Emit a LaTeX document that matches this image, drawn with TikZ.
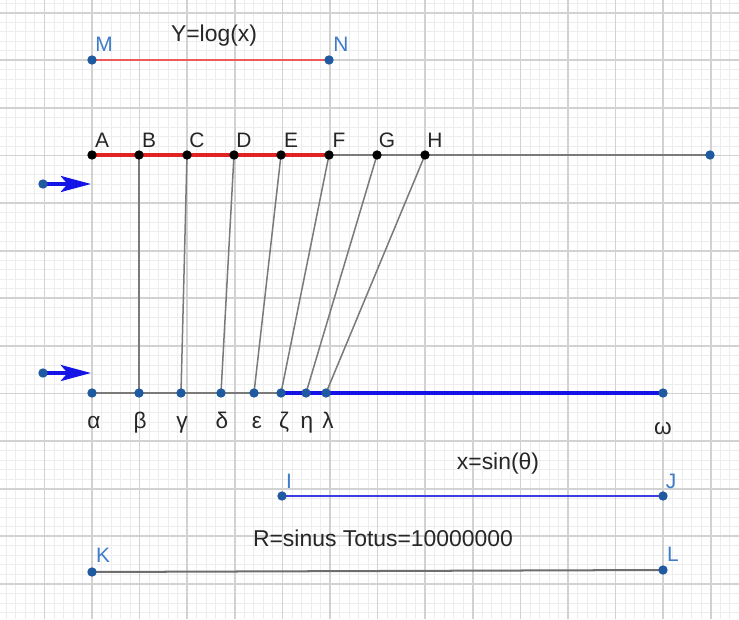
\documentclass[tikz,border=0pt]{standalone}
\usepackage{fontspec}
\setmainfont{Liberation Sans}
\usetikzlibrary{arrows.meta,calc}
\definecolor{gridminor}{HTML}{EDEDED}
\definecolor{gridmajor}{HTML}{D2D2D2}
\definecolor{segred}{HTML}{E02424}
\definecolor{lightred}{HTML}{EE5A5A}
\definecolor{segblue}{HTML}{1414E6}
\definecolor{ijblue}{HTML}{3C3CE0}
\definecolor{ptblue}{HTML}{1F5AA0}
\definecolor{lblblue}{HTML}{3D7CC9}
\definecolor{segray}{HTML}{7A7A7A}
\tikzset{
  bdot/.style={circle,fill=black,inner sep=0pt,minimum size=5.6pt},
  udot/.style={circle,fill=ptblue,inner sep=0pt,minimum size=5.6pt},
  plabel/.style={font=\fontsize{12.5}{14}\selectfont,text=black!85,inner sep=0pt},
  glabel/.style={font=\fontsize{13.5}{15}\selectfont,text=black!85,inner sep=0pt,anchor=base},
  ulabel/.style={font=\fontsize{12.5}{14}\selectfont,text=lblblue,inner sep=0pt},
  title/.style={font=\fontsize{13.7}{16}\selectfont,text=black!85,inner sep=0pt},
  thinseg/.style={draw=segray,line width=0.9pt},
  thickred/.style={draw=segred,line width=2.4pt},
  thickblue/.style={draw=segblue,line width=2.4pt},
  pointer/.style={draw=segblue,line width=2.4pt,-{Stealth[length=18pt,width=9.5pt,inset=4pt]}}
}
\begin{document}
\begin{tikzpicture}[x=0.02101cm,y=-0.02101cm]
\useasboundingbox (0,0) rectangle (739,619);
\fill[white] (0,0) rectangle (739,619);
\begin{scope}
\clip (0,0) rectangle (739,619);
\foreach \i in {0,...,79} {
  \draw[gridminor,line width=0.5pt] ({-3.2+9.52*\i},0) -- ({-3.2+9.52*\i},619);
}
\foreach \i in {0,...,70} {
  \draw[gridminor,line width=0.5pt] (0,{-34.9+9.52*\i}) -- (739,{-34.9+9.52*\i});
}
\foreach \i in {0,...,16} {
  \draw[gridmajor,line width=1pt] ({-3.2+47.6*\i},0) -- ({-3.2+47.6*\i},619);
}
\foreach \i in {0,...,14} {
  \draw[gridmajor,line width=1pt] (0,{-34.9+47.6*\i}) -- (739,{-34.9+47.6*\i});
}
\end{scope}

% positions
\coordinate (M) at (92,60);
\coordinate (N) at (329,60);
\coordinate (A) at (92,155);
\coordinate (B) at (139,155);
\coordinate (C) at (187,155);
\coordinate (D) at (234,155);
\coordinate (E) at (281,155);
\coordinate (F) at (329,155);
\coordinate (G) at (377,155);
\coordinate (H) at (425,155);
\coordinate (Z) at (710,155);
\coordinate (al) at (92,393);
\coordinate (be) at (139,393);
\coordinate (ga) at (181,393);
\coordinate (de) at (221,393);
\coordinate (ep) at (254,393);
\coordinate (ze) at (281,393);
\coordinate (et) at (306,393);
\coordinate (la) at (326,393);
\coordinate (om) at (663,393);
\coordinate (I) at (282,496);
\coordinate (J) at (663,496);
\coordinate (K) at (92,572);
\coordinate (L) at (663,570);
\coordinate (p1) at (43,184);
\coordinate (p1t) at (91,184);
\coordinate (p2) at (43,373);
\coordinate (p2t) at (91,373);

% segments
\draw[draw=lightred,line width=1.5pt] (M) -- (N);
\draw[thinseg] (A) -- (Z);
\draw[thickred] (A) -- (F);
\draw[thinseg] (B) -- (be);
\draw[thinseg] (C) -- (ga);
\draw[thinseg] (D) -- (de);
\draw[thinseg] (E) -- (ep);
\draw[thinseg] (F) -- (ze);
\draw[thinseg] (G) -- (et);
\draw[thinseg] (H) -- (la);
\draw[thinseg] (al) -- (om);
\draw[thickblue] (ze) -- (om);
\draw[draw=ijblue,line width=1.2pt] (I) -- (J);
\draw[draw=segray!90!black,line width=1.2pt] (K) -- (L);
\draw[pointer] (p1) -- (p1t);
\draw[pointer] (p2) -- (p2t);

% dots
\foreach \p in {A,B,C,D,E,F,G,H} { \node[bdot] (dot-\p) at (\p) {}; }
\foreach \p in {M,N,Z,al,be,ga,de,ep,ze,et,la,om,I,J,K,L,p1,p2} { \node[udot] (dot-\p) at (\p) {}; }

% labels
\node[ulabel] (lM) at (104,44) {M};
\node[ulabel] (lN) at (341,44) {N};
\foreach \p/\t in {A/A,B/B,C/C,D/D,E/E,F/F,G/G,H/H} {
  \node[plabel] (l\p) at ($(\p)+(10,-15)$) {\t};
}
\node[glabel] (lal) at (94,428) {α};
\node[glabel] (lbe) at (140,428) {β};
\node[glabel] (lga) at (182,428) {γ};
\node[glabel] (lde) at (222,428) {δ};
\node[glabel] (lep) at (257,428) {ε};
\node[glabel] (lze) at (284,428) {ζ};
\node[glabel] (let) at (307,428) {η};
\node[glabel] (lla) at (328,428) {λ};
\node[glabel] (lom) at (663,434) {ω};
\node[ulabel] (lI) at (289,481) {I};
\node[ulabel] (lJ) at (671,481) {J};
\node[ulabel] (lK) at (103,555) {K};
\node[ulabel] (lL) at (673,554) {L};
\node[title] (t1) at (214,36) {Y=log(x)};
\node[title] (t2) at (498,464) {x=sin(θ)};
\node[title] (t3) at (383,538) {R=sinus Totus=10000000};
\end{tikzpicture}
\end{document}
